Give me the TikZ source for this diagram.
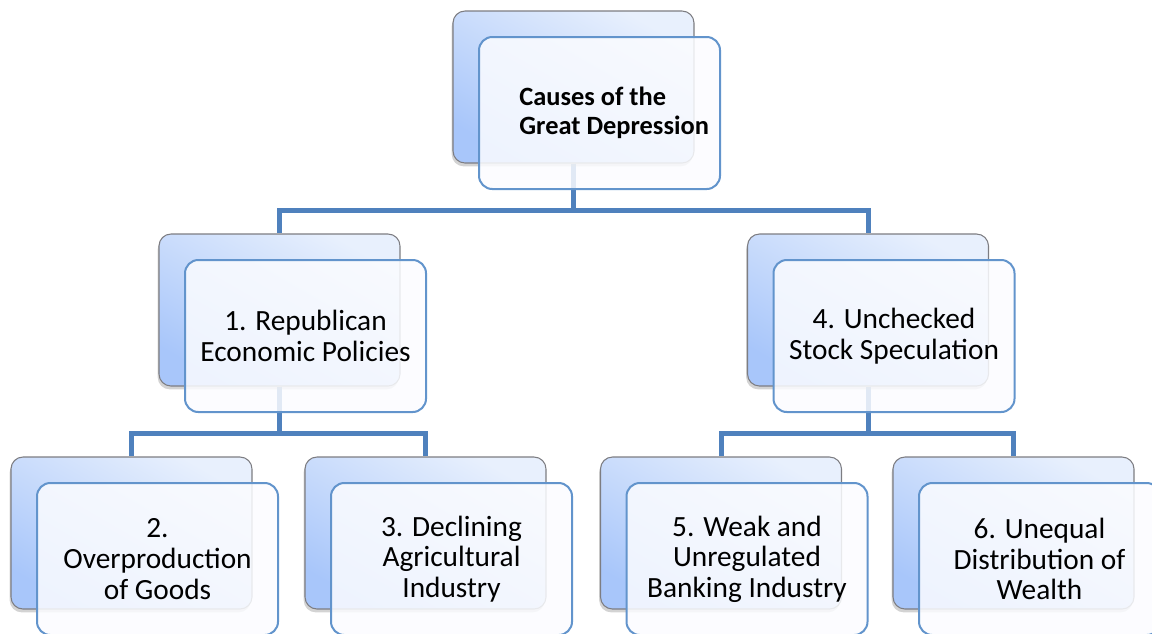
\documentclass[tikz,border=0pt]{standalone}
\usepackage{fontspec}
\setmainfont{Carlito}
\usepackage{tikz}
\usetikzlibrary{positioning, shadows, backgrounds}
\definecolor{mysteel}{RGB}{79,129,189}
\definecolor{myedge}{RGB}{98,148,204}
\definecolor{mygrey}{RGB}{125,125,130}
\definecolor{bgtop}{RGB}{232,240,253}
\definecolor{bgbot}{RGB}{168,198,250}
\definecolor{frontfill}{RGB}{251,252,255}
\tikzset{
  backbox/.style={rectangle, draw=mygrey, top color=bgtop, bottom color=bgbot,
    shading angle=-30, minimum width=180.75pt, minimum height=114pt,
    rounded corners=9pt, line width=0.8pt,
    drop shadow={shadow xshift=-1pt, shadow yshift=-2.5pt, opacity=0.35}},
  frontbox/.style={rectangle, draw=myedge, fill=frontfill, fill opacity=0.85,
    text opacity=1, minimum width=180.75pt, minimum height=114pt,
    rounded corners=10pt, line width=1.5pt, align=center,
    font=\fontsize{22}{23}\selectfont},
  conn/.style={line width=3.75pt, color=mysteel}
}

\begin{document}
\begin{tikzpicture}[x=0.75pt, y=-0.75pt]
  \useasboundingbox (0,0) rectangle (1152,633);
  \clip (0,0) rectangle (1152,633);

  % back boxes
  \node[backbox] (topb) at (573.5,87) {};
  \node[backbox] (repb) at (279.5,310) {};
  \node[backbox] (stockb) at (868,310) {};
  \node[backbox] (overb) at (131.5,533) {};
  \node[backbox] (agrib) at (425.5,533) {};
  \node[backbox] (bankb) at (721,533) {};
  \node[backbox] (wealthb) at (1013.5,533) {};

  % front boxes
  \node[frontbox, align=left, font=\fontsize{19.8}{22}\selectfont\bfseries] (top) at ([shift={(26,26)}]topb.center)
    {\hspace*{22pt}Causes of the\\\hspace*{22pt}Great Depression};
  \node[frontbox] (rep) at ([shift={(26,26)}]repb.center) {1. Republican\\Economic Policies};
  \node[frontbox] (stock) at ([shift={(26,26)}]stockb.center) {4. Unchecked\\Stock Speculation};
  \node[frontbox] (over) at ([shift={(26,26)}]overb.center) {2.\\Overproduction\\of Goods};
  \node[frontbox] (agri) at ([shift={(26,26)}]agrib.center) {3. Declining\\Agricultural\\Industry};
  \node[frontbox] (bank) at ([shift={(26,26)}]bankb.center) {5. Weak and\\Unregulated\\Banking Industry};
  \node[frontbox] (wealth) at ([shift={(26,26)}]wealthb.center) {6. Unequal\\Distribution of\\Wealth};

  % connectors
  \begin{pgfonlayer}{background}
    \draw[conn] (topb.south) -- ++(0,47) -| (repb.north);
    \draw[conn] (topb.south) -- ++(0,47) -| (stockb.north);
    \draw[conn] (repb.south) -- ++(0,47) -| (overb.north);
    \draw[conn] (repb.south) -- ++(0,47) -| (agrib.north);
    \draw[conn] (stockb.south) -- ++(0,47) -| (bankb.north);
    \draw[conn] (stockb.south) -- ++(0,47) -| (wealthb.north);
  \end{pgfonlayer}
\end{tikzpicture}
\end{document}
